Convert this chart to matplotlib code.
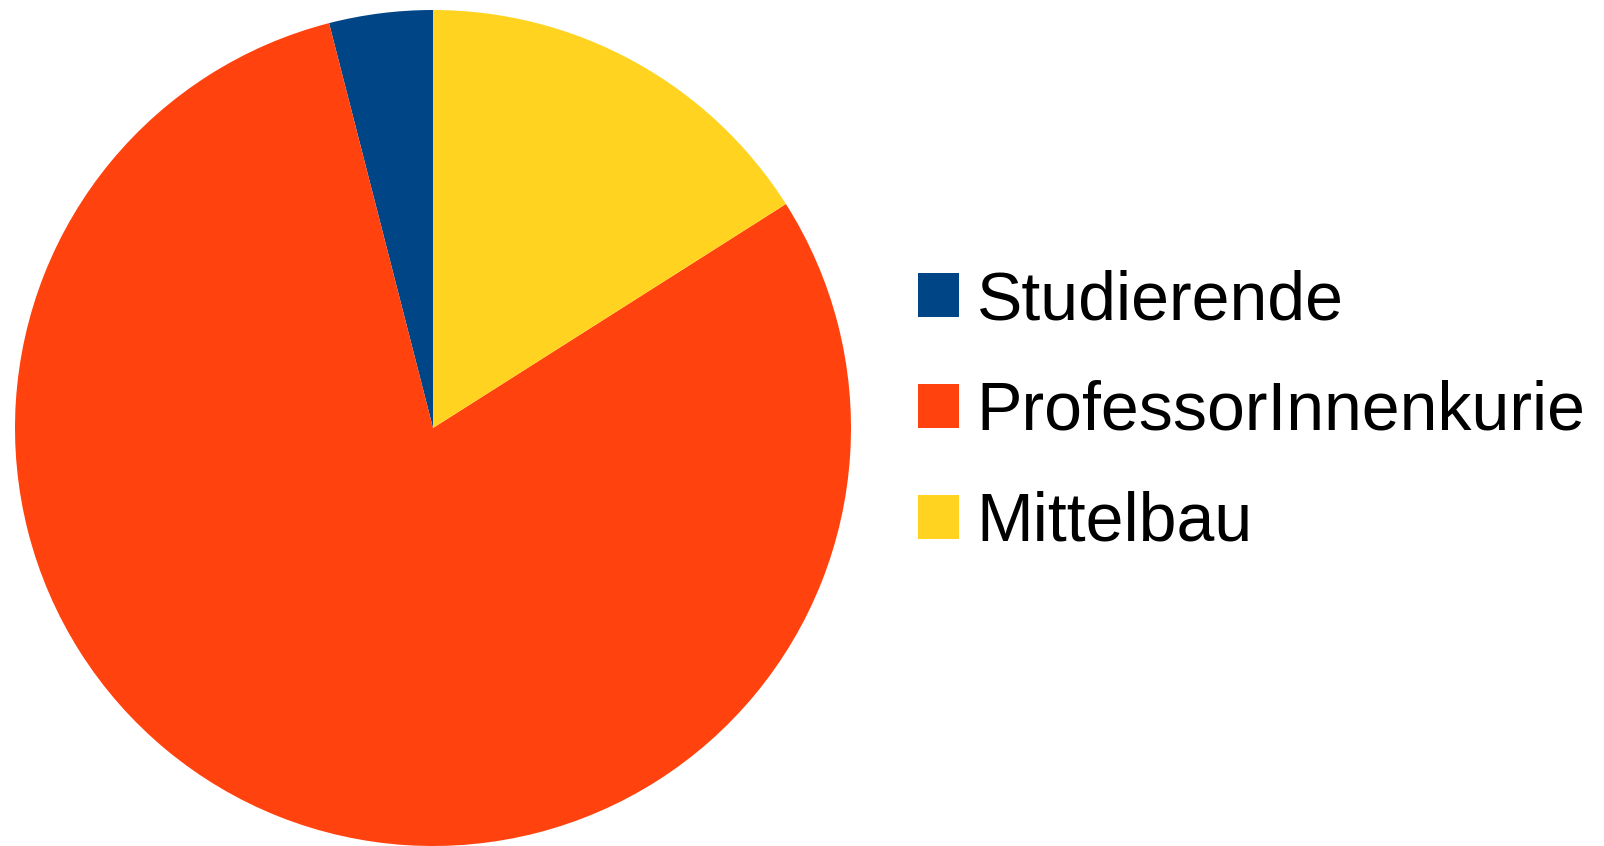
import matplotlib.pyplot as plt
from matplotlib.patches import Patch

labels = ['Studierende', 'ProfessorInnenkurie', 'Mittelbau']
values = [1, 20, 4]
colors = ['#004586', '#ff420e', '#ffd320']

plt.rcParams['font.family'] = ['Liberation Sans', 'DejaVu Sans']

W, H = 1604, 846
fig = plt.figure(figsize=(W / 100, H / 100), dpi=100)

# pie centre (433, 428) px, radius 418 px
cx, cy, r = 433, 428, 418
ax = fig.add_axes([(cx - r) / W, (H - cy - r) / H, 2 * r / W, 2 * r / H])
ax.pie(values, colors=colors, startangle=90, counterclock=True, radius=1,
       wedgeprops=dict(linewidth=0))
ax.set_xlim(-1, 1)
ax.set_ylim(-1, 1)
ax.set_aspect('equal')
ax.axis('off')

handles = [Patch(facecolor=c, edgecolor='none') for c in colors]
fig.legend(handles, labels, loc='upper left',
           bbox_to_anchor=(918 / W, 1 - 269 / H),
           frameon=False, fontsize=49, handlelength=0.6, handleheight=0.6,
           handletextpad=0.26, labelspacing=0.69, borderpad=0, borderaxespad=0)

fig.savefig('out.png', dpi=100)
